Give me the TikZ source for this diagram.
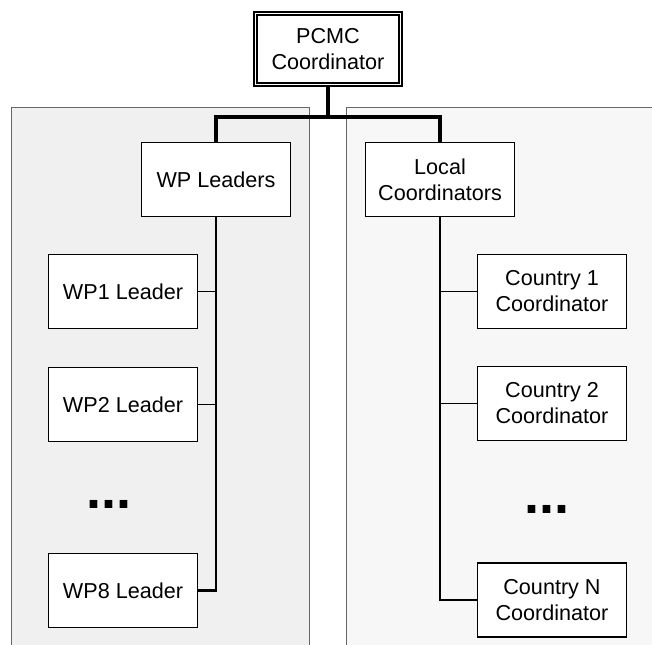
\documentclass[tikz,border=0pt]{standalone}
\usepackage{fontspec}
\setmainfont{Liberation Sans}
\usetikzlibrary{calc}
\begin{document}
\begin{tikzpicture}[x=1pt,y=-1pt,
  box/.style={draw=black, fill=white, line width=1.8pt, minimum width=149pt,
    minimum height=74pt, inner sep=0pt, align=center,
    font=\fontsize{21.6}{26}\selectfont},
  topbox/.style={box, double=white, line width=1.7pt, double distance=1.8pt,
    minimum width=145pt, minimum height=71pt},
  trunk/.style={line width=4.2pt},
  branch/.style={line width=2.2pt},
  twig/.style={line width=1.7pt},
  panel/.style={draw=black!60, line width=1pt},
  dots/.style={anchor=base, inner sep=0pt, font=\fontsize{54}{54}\selectfont\bfseries}
]
\useasboundingbox (0,0) rectangle (652,644);

% background panels (open at the bottom / right)
\fill[black!6] (11,108) rectangle (309,650);
\draw[panel] (11,650) -- (11,108) -- (309,108) -- (309,650);
\fill[black!3] (346,108) rectangle (660,650);
\draw[panel] (346,650) -- (346,108) -- (660,108);

% nodes
\node[topbox] (pcmc) at (328,49) {PCMC\\Coordinator};
\node[box] (wpl) at (216,179.5) {WP Leaders};
\node[box] (lc) at (440,179.5) {Local\\Coordinators};

\node[box] (wp1) at (123,291.5) {WP1 Leader};
\node[box] (wp2) at (123,404.5) {WP2 Leader};
\node[box] (wp8) at (123,590.5) {WP8 Leader};
\node[dots] (ldots) at (109,508) {...};

\node[box] (c1) at (552,291.5) {Country 1\\Coordinator};
\node[box] (c2) at (552,403.5) {Country 2\\Coordinator};
\node[box] (cn) at (552,600) {Country N\\Coordinator};
\node[dots] (rdots) at (547,513) {...};

% top-level connectors
\coordinate (split) at ($(pcmc.south)+(0,32)$);
\draw[trunk] (pcmc.south) -- (split);
\draw[trunk] (split) -| (wpl.north);
\draw[trunk] (split) -| (lc.north);

% work-package branch
\draw[branch] (wpl.south) |- (wp8.east);
\draw[twig] (wp1.east) -- (wp1.east -| wpl.south);
\draw[twig] (wp2.east) -- (wp2.east -| wpl.south);

% country branch
\draw[branch] (lc.south) |- (cn.west);
\draw[twig] (c1.west) -- (c1.west -| lc.south);
\draw[twig] (c2.west) -- (c2.west -| lc.south);
\end{tikzpicture}
\end{document}
